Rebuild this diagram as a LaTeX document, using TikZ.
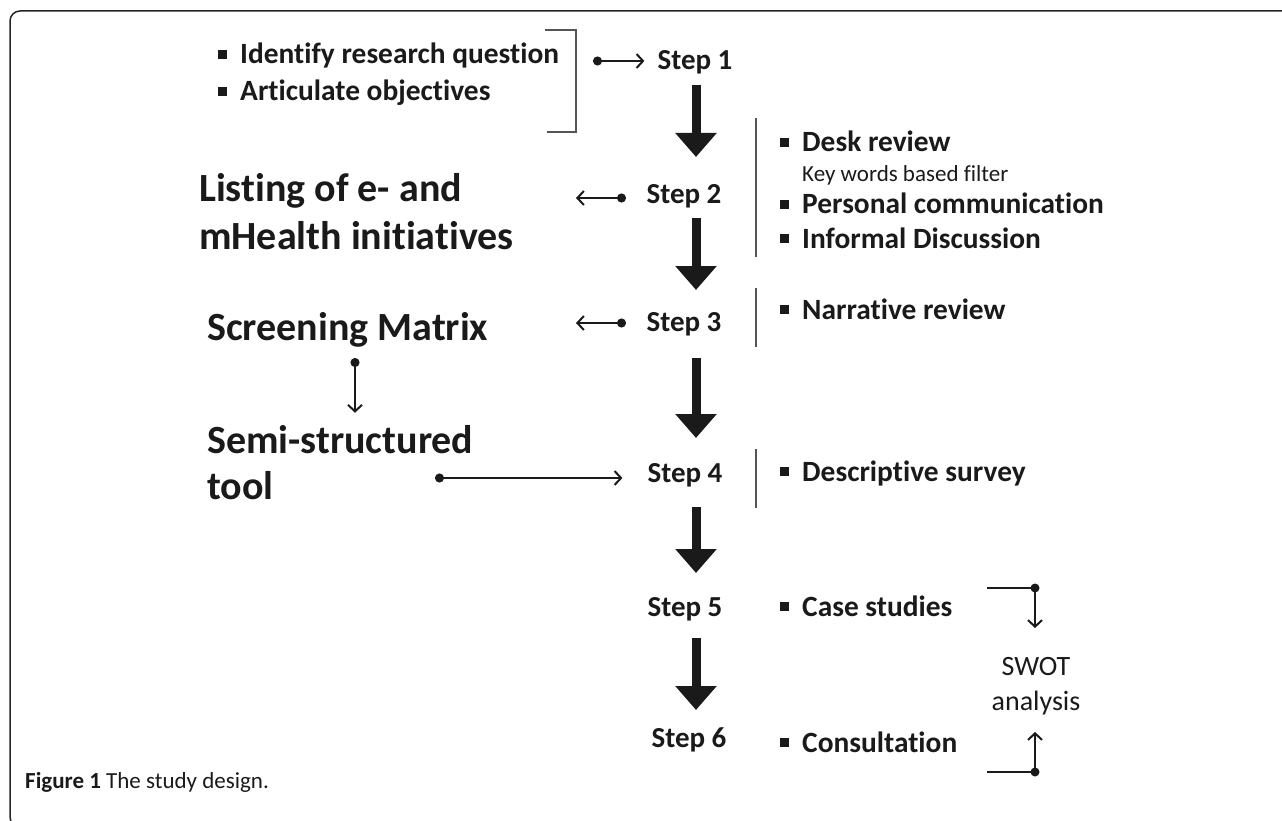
\documentclass[tikz,border=0pt]{standalone}
\usepackage{fontspec}
\setmainfont{Carlito}[Ligatures=NoCommon]
\usetikzlibrary{arrows.meta}
\definecolor{ink}{HTML}{1A1A1A}
\definecolor{rulegray}{HTML}{555555}
\newcommand{\bul}{\rule[4.8pt]{9pt}{9pt}\hspace{13pt}}
\tikzset{
  stepnode/.style={font=\bfseries\fontsize{29}{31}\selectfont, text=ink, anchor=base, inner sep=0pt},
  itemnode/.style={font=\bfseries\fontsize{29.4}{31}\selectfont, text=ink, anchor=base west, inner sep=0pt},
  bignode/.style={font=\bfseries\fontsize{40}{42}\selectfont, text=ink, anchor=base west, inner sep=0pt},
  notenode/.style={font=\fontsize{23}{25}\selectfont, text=ink, anchor=base west, inner sep=0pt},
  swotnode/.style={font=\fontsize{28}{30}\selectfont, text=ink, anchor=base, inner sep=0pt},
  sepline/.style={draw=rulegray, line width=1.5pt},
  conn/.style={draw=ink, line width=2pt, {Circle[length=9pt]}-{Straight Barb[length=6.5pt,width=14pt]}},
  plainconn/.style={draw=ink, line width=2pt, -{Straight Barb[length=6.5pt,width=14pt]}},
  bigarrow/.style={draw=ink, line width=9pt, -{Triangle[length=24pt,width=40pt]}},
}
\begin{document}
\begin{tikzpicture}[x=1pt,y=-1pt]
\useasboundingbox (0,0) rectangle (1282,821);
% frame
\draw[line width=1.5pt, draw=black!85, rounded corners=10pt] (1290,11) -- (10,11) -- (10,827) -- (40,827);

% top items
\node[itemnode] (i1) at (218,64) {\bul Identify research question};
\node[itemnode] (i2) at (218,101) {\bul Articulate objectives};
\coordinate (b1) at (545,30);
\coordinate (b2) at (576,132);
\draw[sepline] (b1) -- (b1 -| b2) -- (b2) -- (547,132);

% steps
\node[stepnode] (s1) at (695,70) {Step 1};
\node[stepnode] (s2) at (684,204) {Step 2};
\node[stepnode] (s3) at (684,331) {Step 3};
\node[stepnode] (s4) at (685,482) {Step 4};
\node[stepnode] (s5) at (685,616) {Step 5};
\node[stepnode] (s6) at (689,747) {Step 6};

% big arrows
\coordinate (a1s) at (696,85);  \coordinate (a1e) at (696,157);
\coordinate (a2s) at (696,218); \coordinate (a2e) at (696,290);
\coordinate (a3s) at (696,358); \coordinate (a3e) at (696,438);
\coordinate (a4s) at (696,507); \coordinate (a4e) at (696,573);
\coordinate (a5s) at (696,638); \coordinate (a5e) at (696,710);
\draw[bigarrow] (a1s) -- (a1e);
\draw[bigarrow] (a2s) -- (a2e);
\draw[bigarrow] (a3s) -- (a3e);
\draw[bigarrow] (a4s) -- (a4e);
\draw[bigarrow] (a5s) -- (a5e);

% step 1 connector
\coordinate (d1) at (593,61);
\draw[conn] (d1) -- ([xshift=-13pt]s1.west |- d1);

% separators
\draw[sepline] (756,118) -- (756,257);
\draw[sepline] (756,288) -- (756,347);
\draw[sepline] (756,449) -- (756,508);

% right items
\node[itemnode] (r1) at (780,152) {\bul Desk review};
\node[notenode] (r1n) at (802,182) {Key words based filter};
\node[itemnode] (r2) at (780,214) {\bul Personal communication};
\node[itemnode] (r3) at (780,248) {\bul Informal Discussion};
\node[itemnode] (r4) at (780,319) {\bul Narrative review};
\node[itemnode] (r5) at (780,481) {\bul Descriptive survey};
\node[itemnode] (r6) at (780,616) {\bul Case studies};
\node[itemnode] (r7) at (780,752) {\bul Consultation};

% left big texts
\node[bignode] (l1) at (199,201) {Listing of e- and};
\node[bignode] (l2) at (199,249) {mHealth initiatives};
\node[bignode] (sm) at (207,340) {Screening Matrix};
\node[bignode] (st1) at (207,453) {Semi-structured};
\node[bignode] (st2) at (207,499) {tool};

% step 2/3 connectors
\coordinate (d2) at (626,198); \coordinate (t2) at (576,198);
\draw[conn] (d2) -- (t2);
\coordinate (d3) at (626,323); \coordinate (t3) at (576,323);
\draw[conn] (d3) -- (t3);

% screening to semi-structured
\coordinate (dsm) at (355,358);
\draw[conn] (dsm) -- ([yshift=12pt]st1.north -| dsm);

% tool to step 4
\coordinate (dst) at (435,478);
\draw[conn] (dst) -- ([xshift=-25pt]s4.west |- dst);

% SWOT
\node[swotnode] (sw1) at (1036,675) {SWOT};
\node[swotnode] (sw2) at (1036,710) {analysis};
\coordinate (u0) at (987,588); \coordinate (u1) at (1035,588); \coordinate (u2) at (1035,628);
\coordinate (w0) at (987,772); \coordinate (w1) at (1035,772); \coordinate (w2) at (1035,732);
\draw[draw=ink, line width=2pt] (u0) -- (u1);
\draw[draw=ink, line width=2pt] (w0) -- (w1);
\fill[ink] (u1) circle[radius=4.5];
\fill[ink] (w1) circle[radius=4.5];
\draw[plainconn] (u1) -- (u2);
\draw[plainconn] (w1) -- (w2);

% caption
\node[anchor=base west, inner sep=0pt, text=ink, font=\fontsize{23}{25}\selectfont] (cap) at (25,788) {\textbf{Figure 1} The study design.};
\end{tikzpicture}
\end{document}
